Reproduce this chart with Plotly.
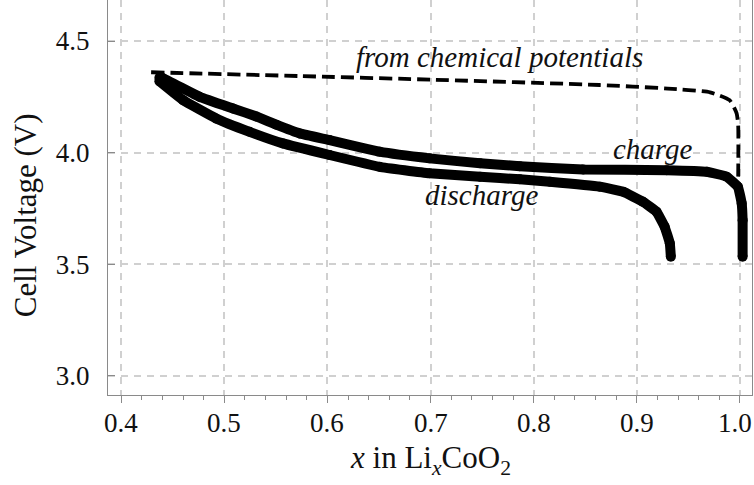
import plotly.graph_objects as go

# Dashed curve "from chemical potentials"
chem_x = [0.429, 0.573, 0.700, 0.864, 0.930, 0.971, 0.990, 0.9968, 0.9983, 0.9983]
chem_v = [4.360, 4.343, 4.327, 4.303, 4.287, 4.270, 4.235, 4.176, 4.123, 3.886]

# Charge curve (upper solid)
charge_x = [0.437, 0.4404, 0.476, 0.5083, 0.531, 0.5504, 0.573, 0.602, 0.6506, 0.699,
            0.748, 0.7865, 0.848, 0.929, 0.9677, 0.987, 0.998, 1.0017, 1.0026, 1.0026]
charge_v = [4.335, 4.333, 4.250, 4.198, 4.162, 4.125, 4.086, 4.056, 4.004, 3.974,
            3.952, 3.939, 3.924, 3.921, 3.914, 3.892, 3.847, 3.772, 3.697, 3.533]

# Discharge curve (lower solid)
dis_x = [0.437, 0.460, 0.492, 0.5245, 0.5568, 0.602, 0.6506, 0.699, 0.748, 0.7865,
         0.8156, 0.864, 0.8868, 0.906, 0.919, 0.927, 0.932, 0.933]
dis_v = [4.320, 4.235, 4.153, 4.093, 4.041, 3.989, 3.936, 3.907, 3.892, 3.880,
         3.869, 3.847, 3.824, 3.779, 3.735, 3.667, 3.593, 3.533]

x_ticks = [0.4, 0.5, 0.6, 0.7, 0.8, 0.9, 1.0]
y_ticks = [3.0, 3.5, 4.0, 4.5]

FONT = "Liberation Serif, Times New Roman, serif"

fig = go.Figure()
for xs, vs in [(charge_x, charge_v), (dis_x, dis_v)]:
    fig.add_trace(go.Scatter(x=xs, y=vs, mode="lines+markers",
                             line=dict(color="black", width=10, shape="spline", smoothing=0.3),
                             marker=dict(color="black", size=10),
                             showlegend=False, hoverinfo="skip"))
fig.add_trace(go.Scatter(x=chem_x, y=chem_v, mode="lines",
                         line=dict(color="black", width=3.8, dash="13px,6px",
                                   shape="spline", smoothing=0.5),
                         showlegend=False, hoverinfo="skip"))

axcol = "#8a8a8a"
tick_font = dict(family=FONT, size=27, color="#111")
ann_font = dict(family=FONT, size=29, color="#111")
title_font = dict(family=FONT, size=31, color="#111")

annotations = [
    dict(text="<i>from chemical potentials</i>", x=0.767, y=4.428, xref="x", yref="y",
         xanchor="center", yanchor="middle", showarrow=False, font=ann_font),
    dict(text="<i>charge</i>", x=0.9157, y=4.015, xref="x", yref="y",
         xanchor="center", yanchor="middle", showarrow=False, font=ann_font),
    dict(text="<i>discharge</i>", x=0.749, y=3.81, xref="x", yref="y",
         xanchor="center", yanchor="middle", showarrow=False, font=ann_font),
    dict(text="Cell Voltage (V)", x=-0.129, y=0.455, xref="paper", yref="paper",
         xanchor="center", yanchor="middle", textangle=-90, showarrow=False,
         font=title_font),
    dict(text="<i>x</i> in Li<sub><i>x</i></sub>CoO<sub>2</sub>", x=0.5, y=-0.165,
         xref="paper", yref="paper", xanchor="center", yanchor="middle",
         showarrow=False, font=title_font),
]
# x tick labels placed on the x scale, just under the axis
for i, v in enumerate(x_ticks):
    last = i == len(x_ticks) - 1
    annotations.append(dict(text=f"{v:.1f}", x=v, xref="x", y=0, yref="paper",
                            xanchor="center", yanchor="middle", yshift=-28,
                            xshift=-5 if last else 0,
                            showarrow=False, font=tick_font))

fig.update_layout(
    width=754, height=485,
    margin=dict(l=108, r=2, t=0, b=90),
    plot_bgcolor="white", paper_bgcolor="white",
    font=dict(family=FONT, size=27, color="#111"),
    xaxis=dict(range=[0.3872, 1.0117], tickvals=x_ticks, showticklabels=False,
               showline=True, linecolor=axcol, linewidth=1.2, mirror=False,
               ticks="outside", ticklen=7, tickcolor=axcol, tickwidth=1.2,
               minor=dict(tick0=0.4, dtick=0.02, ticks="outside", ticklen=4,
                          tickcolor=axcol, showgrid=False),
               showgrid=True, gridcolor="#d0d0d0", gridwidth=1.5, griddash="7px,6px",
               zeroline=False),
    yaxis=dict(range=[2.913, 4.684], tickvals=y_ticks, tickformat=".1f",
               showline=True, linecolor=axcol, linewidth=1.2, mirror=True,
               ticks="inside", ticklen=7, tickcolor=axcol, tickwidth=1.2,
               showgrid=True, gridcolor="#d0d0d0", gridwidth=1.5, griddash="7px,6px",
               zeroline=False, ticklabelstandoff=12, ticklabeloverflow="allow",
               tickfont=tick_font),
    annotations=annotations,
)

fig.write_html("out.html")
